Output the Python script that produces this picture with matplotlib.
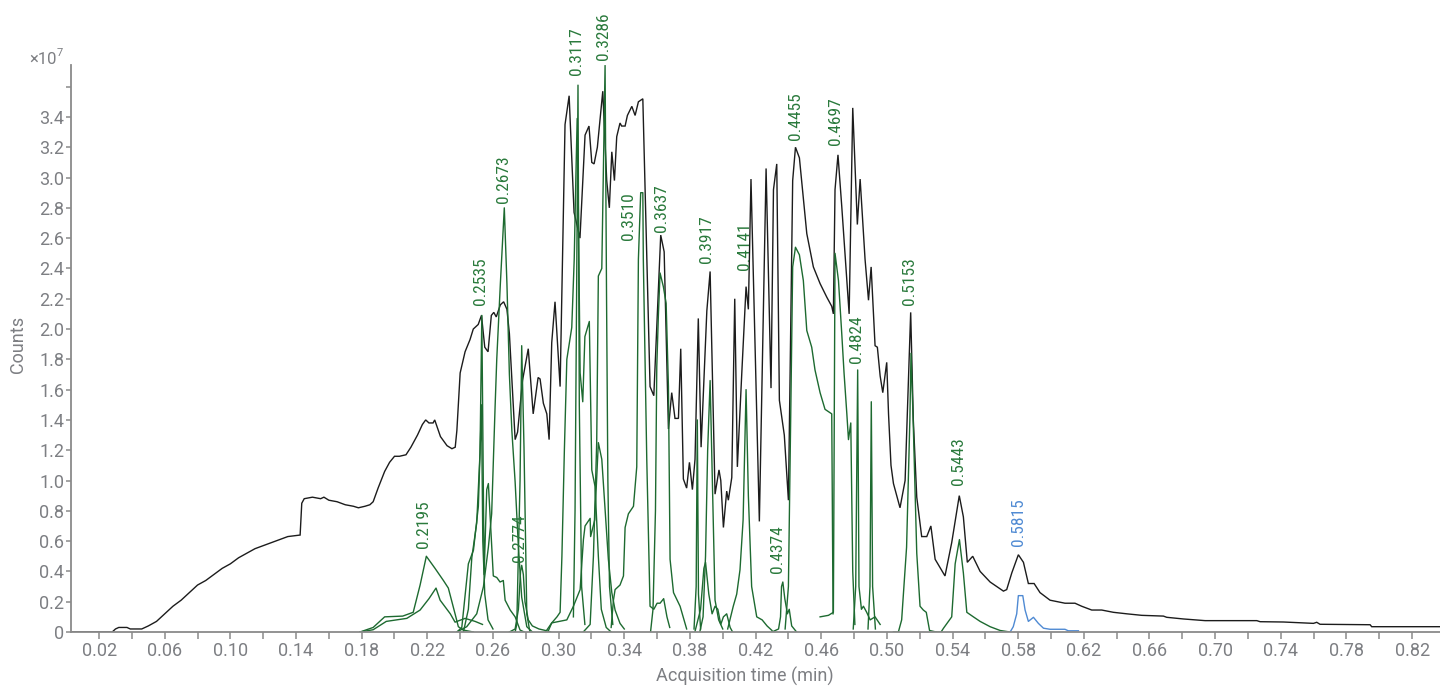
import matplotlib
matplotlib.use("Agg")
import matplotlib.pyplot as plt
from matplotlib import font_manager as fm

plt.rcParams['font.family'] = ['Roboto', 'DejaVu Sans']

# ---------------- data (time in min, counts in units of 1e7) ----------------
tic_t = [0.003, 0.028, 0.030, 0.032, 0.037, 0.039, 0.046, 0.050, 0.055, 0.060, 0.065, 0.070, 0.075,
         0.080, 0.085, 0.090, 0.095, 0.100, 0.105, 0.110, 0.115, 0.120, 0.125, 0.130, 0.135, 0.1425,
         0.1435, 0.145, 0.150, 0.155, 0.157, 0.160, 0.165, 0.170, 0.175, 0.178, 0.182, 0.185, 0.187,
         0.190, 0.194, 0.197, 0.200, 0.203, 0.207, 0.210, 0.214, 0.217, 0.219, 0.221, 0.2235, 0.2245,
         0.228, 0.232, 0.235, 0.237, 0.238, 0.240, 0.243, 0.246, 0.248, 0.251, 0.253, 0.255, 0.257,
         0.259, 0.2605, 0.262, 0.2645, 0.2665, 0.2685, 0.270, 0.2735, 0.275, 0.278, 0.2815, 0.2845,
         0.2875, 0.2887, 0.2907, 0.2928, 0.2942, 0.2958, 0.2978, 0.3009, 0.3039, 0.3064, 0.3094,
         0.3130, 0.3161, 0.3185, 0.3202, 0.3216, 0.3236, 0.3269, 0.3293, 0.3309, 0.3324, 0.3340,
         0.3354, 0.3374, 0.3384, 0.3405, 0.3419, 0.3446, 0.3466, 0.3486, 0.3513, 0.3557, 0.3580,
         0.3622, 0.3643, 0.3669, 0.3689, 0.3709, 0.3730, 0.3744, 0.3760, 0.3780, 0.3797, 0.3815,
         0.3831, 0.3851, 0.3868, 0.3903, 0.3923, 0.3953, 0.3977, 0.3988, 0.4004, 0.4024, 0.4034,
         0.4055, 0.4073, 0.4089, 0.4116, 0.4142, 0.4156, 0.4172, 0.4223, 0.4264, 0.4294, 0.4309,
         0.4329, 0.4345, 0.4375, 0.4400, 0.4426, 0.4443, 0.4467, 0.4512, 0.4552, 0.4593, 0.4634,
         0.4664, 0.4674, 0.4684, 0.4702, 0.4725, 0.4770, 0.4792, 0.4820, 0.4837, 0.4867, 0.4888,
         0.4904, 0.4928, 0.4942, 0.4959, 0.4975, 0.4999, 0.5010, 0.5025, 0.5040, 0.5080, 0.5111,
         0.5145, 0.5161, 0.5182, 0.5212, 0.5243, 0.5268, 0.5294, 0.5354, 0.5395, 0.5441, 0.5466,
         0.5490, 0.5523, 0.5568, 0.5629, 0.5710, 0.5730, 0.5761, 0.5801, 0.5832, 0.5862, 0.5897,
         0.5933, 0.5994, 0.6085, 0.6146, 0.6187, 0.6248, 0.6309, 0.6380, 0.6462, 0.6553, 0.6685,
         0.6705, 0.6807, 0.6939, 0.7254, 0.7274, 0.7416, 0.7599, 0.7619, 0.7639, 0.7944, 0.7954, 0.837]
tic_y = [0.0, 0.0, 0.02, 0.03, 0.03, 0.02, 0.02, 0.04, 0.07, 0.12, 0.17, 0.21, 0.26,
         0.31, 0.34, 0.38, 0.42, 0.45, 0.49, 0.52, 0.55, 0.57, 0.59, 0.61, 0.63, 0.64,
         0.85, 0.88, 0.89, 0.88, 0.89, 0.87, 0.86, 0.84, 0.83, 0.82, 0.83, 0.84, 0.86,
         0.95, 1.06, 1.12, 1.16, 1.16, 1.17, 1.22, 1.30, 1.37, 1.40, 1.38, 1.38, 1.40,
         1.29, 1.23, 1.21, 1.22, 1.33, 1.71, 1.85, 1.93, 2.00, 2.03, 2.09, 1.88, 1.85,
         2.09, 2.11, 2.08, 2.16, 2.18, 2.13, 1.97, 1.27, 1.32, 1.66, 1.87, 1.44,
         1.68, 1.67, 1.51, 1.44, 1.27, 1.91, 2.18, 1.62, 3.35, 3.54, 2.77,
         2.60, 3.28, 3.34, 3.10, 3.09, 3.20, 3.57, 2.98, 2.80, 3.17, 2.98,
         3.27, 3.36, 3.34, 3.34, 3.41, 3.47, 3.41, 3.50, 3.52, 1.62, 1.56,
         2.62, 2.51, 1.34, 1.58, 1.41, 1.41, 1.87, 1.01, 0.95, 1.12, 0.94,
         1.14, 2.07, 1.22, 2.12, 2.38, 0.91, 1.07, 1.00, 0.69, 0.93, 0.87,
         1.02, 2.20, 1.09, 1.71, 2.28, 2.13, 2.99, 0.73, 3.06, 1.61, 2.92,
         3.09, 1.53, 1.30, 0.87, 2.98, 3.20, 3.13, 2.63, 2.41, 2.30, 2.21,
         2.15, 2.10, 2.92, 3.15, 2.81, 2.10, 3.46, 2.69, 2.99, 2.46, 2.19,
         2.41, 1.89, 1.88, 1.69, 1.58, 1.78, 1.44, 1.10, 0.98, 0.82, 1.00,
         2.11, 1.40, 0.89, 0.63, 0.63, 0.70, 0.48, 0.37, 0.59, 0.90, 0.76,
         0.46, 0.50, 0.40, 0.33, 0.27, 0.28, 0.39, 0.51, 0.46, 0.32, 0.32,
         0.26, 0.21, 0.19, 0.19, 0.17, 0.145, 0.145, 0.13, 0.12, 0.11, 0.105,
         0.097, 0.086, 0.075, 0.075, 0.068, 0.066, 0.057, 0.064, 0.051, 0.048, 0.035, 0.035]

# extracted ion chromatograms (green)
eic_2195_t = [0.179, 0.187, 0.194, 0.205, 0.2114, 0.2156, 0.2194, 0.2247, 0.2298, 0.2328, 0.2369, 0.2389, 0.2418, 0.248]
eic_2195_y = [0.0, 0.03, 0.10, 0.105, 0.13, 0.31, 0.50, 0.42, 0.34, 0.29, 0.12, 0.035, 0.013, 0.0]
eic_2253_t = [0.179, 0.187, 0.195, 0.2075, 0.2156, 0.2210, 0.2253, 0.2278, 0.234, 0.2369, 0.2430, 0.2491, 0.2536]
eic_2253_y = [0.0, 0.015, 0.07, 0.09, 0.145, 0.22, 0.29, 0.21, 0.12, 0.065, 0.09, 0.07, 0.05]
eic_2535_t = [0.2420, 0.2450, 0.2471, 0.2501, 0.2521, 0.2532, 0.2546, 0.2562, 0.2572, 0.2602, 0.2623,
              0.2643, 0.2663, 0.2674, 0.2705, 0.2735, 0.2765, 0.279]
eic_2535_y = [0.0, 0.15, 0.49, 0.72, 1.18, 2.09, 0.38, 0.94, 0.98, 0.37, 0.36,
              0.33, 0.34, 0.21, 0.145, 0.10, 0.013, 0.0]
eic_2530_t = [0.2380, 0.2410, 0.2450, 0.2481, 0.2511, 0.2530, 0.2538, 0.2550, 0.2570, 0.2600]
eic_2530_y = [0.0, 0.03, 0.45, 0.54, 0.83, 1.50, 0.60, 0.25, 0.08, 0.02]
eic_2673_t = [0.2380, 0.2440, 0.2501, 0.2542, 0.2572, 0.2592, 0.2613, 0.2623, 0.2645, 0.2669, 0.2685,
              0.2700, 0.2715, 0.2735, 0.2755, 0.2775, 0.2806, 0.2840]
eic_2673_y = [0.0, 0.035, 0.12, 0.30, 0.56, 0.78, 1.49, 1.80, 2.30, 2.80, 2.30,
              1.70, 1.33, 0.99, 0.56, 0.23, 0.035, 0.0]
eic_2775_t = [0.2735, 0.2745, 0.2765, 0.2775, 0.2789, 0.2806, 0.2825]
eic_2775_y = [0.0, 0.05, 1.0, 1.89, 1.22, 0.12, 0.0]
eic_2774_t = [0.2700, 0.2735, 0.2755, 0.2768, 0.2775, 0.2785, 0.2795, 0.2815, 0.2840, 0.2880, 0.2920, 0.2950]
eic_2774_y = [0.0, 0.02, 0.15, 0.40, 0.44, 0.38, 0.20, 0.08, 0.04, 0.02, 0.01, 0.0]
eic_3117_t = [0.3090, 0.3100, 0.3110, 0.3118, 0.3126, 0.3140, 0.3160]
eic_3117_y = [0.1, 0.8, 2.3, 3.61, 1.5, 0.3, 0.05]
eic_3105_t = [0.2920, 0.2958, 0.2990, 0.3009, 0.3020, 0.3035, 0.3050, 0.3080, 0.3095, 0.3105, 0.3113,
              0.3120, 0.3131, 0.3147, 0.3160, 0.3187, 0.3202, 0.3222, 0.3242, 0.3260, 0.3290, 0.3320]
eic_3105_y = [0.0, 0.06, 0.10, 0.13, 0.5, 1.2, 1.80, 2.01, 2.46, 3.0, 3.39,
              2.8, 1.71, 1.52, 1.95, 2.05, 1.07, 0.96, 0.5, 0.15, 0.03, 0.0]
eic_3242_t = [0.2938, 0.2958, 0.3050, 0.3090, 0.3131, 0.3151, 0.3161, 0.3192, 0.3195, 0.3220, 0.3242,
              0.3263, 0.3303, 0.3324, 0.3344, 0.3374, 0.3400]
eic_3242_y = [0.01, 0.06, 0.08, 0.17, 0.28, 0.61, 0.70, 0.75, 0.63, 0.74, 1.25,
              1.14, 0.48, 0.26, 0.145, 0.057, 0.02]
eic_3286_t = [0.3150, 0.3192, 0.3212, 0.3232, 0.3242, 0.3263, 0.3283, 0.3292, 0.3300, 0.3310, 0.3330]
eic_3286_y = [0.0, 0.05, 0.5, 1.25, 2.35, 2.40, 3.74, 2.2, 1.0, 0.3, 0.05]
eic_3510_t = [0.3320, 0.3334, 0.3344, 0.3374, 0.3395, 0.3405, 0.3425, 0.3456, 0.3476, 0.3486, 0.3500,
              0.3513, 0.3516, 0.3537, 0.3557, 0.3580, 0.3600, 0.3618, 0.3640, 0.3660, 0.3677]
eic_3510_y = [0.03, 0.21, 0.28, 0.31, 0.37, 0.69, 0.78, 0.83, 1.09, 2.46, 2.90,
              2.90, 2.46, 1.14, 0.17, 0.15, 0.19, 0.19, 0.22, 0.10, 0.03]
eic_3637_t = [0.3560, 0.3575, 0.3590, 0.3598, 0.3608, 0.3618, 0.3638, 0.3655, 0.3669, 0.3679, 0.3700, 0.3740, 0.3780]
eic_3637_y = [0.0, 0.15, 0.8, 1.75, 2.1, 2.37, 2.28, 2.17, 1.62, 0.48, 0.26, 0.17, 0.02]
eic_3845_t = [0.3825, 0.3838, 0.3845, 0.3852, 0.3865]
eic_3845_y = [0.02, 0.3, 1.40, 0.25, 0.02]
eic_3890_t = [0.3830, 0.3865, 0.3885, 0.3895, 0.3915, 0.3935, 0.3953, 0.3970, 0.3988, 0.4004, 0.4024, 0.4045, 0.4060]
eic_3890_y = [0.0, 0.15, 0.42, 0.46, 0.25, 0.12, 0.17, 0.15, 0.05, 0.10, 0.12, 0.03, 0.0]
eic_3917_t = [0.3860, 0.3880, 0.3895, 0.3908, 0.3923, 0.3943, 0.3953, 0.3975, 0.4000]
eic_3917_y = [0.0, 0.10, 0.5, 1.2, 1.66, 0.69, 0.21, 0.08, 0.02]
eic_4141_t = [0.4030, 0.4064, 0.4085, 0.4105, 0.4124, 0.4142, 0.4156, 0.4176, 0.4207, 0.4240, 0.4270, 0.4300]
eic_4141_y = [0.02, 0.17, 0.25, 0.41, 0.74, 1.60, 0.9, 0.30, 0.10, 0.08, 0.04, 0.01]
eic_4374_t = [0.4300, 0.4340, 0.4352, 0.4358, 0.4366, 0.4378, 0.4394, 0.4405, 0.4420, 0.4450]
eic_4374_y = [0.0, 0.02, 0.10, 0.30, 0.33, 0.22, 0.12, 0.15, 0.04, 0.0]
eic_4455_t = [0.4380, 0.4400, 0.4415, 0.4426, 0.4443, 0.4467, 0.4491, 0.4512, 0.4542, 0.4562, 0.4593,
              0.4623, 0.4664, 0.4672]
eic_4455_y = [0.02, 0.3, 1.5, 2.41, 2.54, 2.49, 2.32, 1.99, 1.88, 1.73, 1.58,
              1.47, 1.44, 0.12]
eic_4697_t = [0.4593, 0.4644, 0.4674, 0.4684, 0.4705, 0.4725, 0.4739, 0.4756, 0.4766, 0.4780, 0.4792, 0.4805]
eic_4697_y = [0.10, 0.11, 0.13, 2.50, 2.32, 1.97, 1.71, 1.44, 1.27, 1.38, 0.4, 0.05]
eic_4824_t = [0.4795, 0.4810, 0.4822, 0.4830, 0.4845, 0.4857, 0.4877, 0.4898, 0.4928, 0.4959]
eic_4824_y = [0.02, 0.3, 1.73, 0.3, 0.15, 0.17, 0.13, 0.08, 0.10, 0.05]
eic_4905_t = [0.4885, 0.4897, 0.4905, 0.4913, 0.4930]
eic_4905_y = [0.02, 0.3, 1.52, 0.3, 0.02]
eic_5153_t = [0.5040, 0.5070, 0.5090, 0.5120, 0.5140, 0.5147, 0.5160, 0.5182, 0.5202, 0.5222, 0.5240, 0.5260, 0.5300]
eic_5153_y = [0.0, 0.0, 0.08, 0.56, 1.40, 1.84, 1.40, 0.52, 0.17, 0.145, 0.13, 0.01, 0.0]
eic_5443_t = [0.5300, 0.5330, 0.5345, 0.5375, 0.5395, 0.5416, 0.5442, 0.5466, 0.5487, 0.5527, 0.5568, 0.5629, 0.5690, 0.5750]
eic_5443_y = [0.0, 0.0, 0.025, 0.07, 0.10, 0.45, 0.61, 0.39, 0.13, 0.10, 0.07, 0.035, 0.01, 0.0]

# blue trace
eic_5815_t = [0.5751, 0.5770, 0.5791, 0.5801, 0.5828, 0.5842, 0.5862, 0.5893, 0.5923, 0.5954, 0.5994,
              0.6085, 0.6105, 0.6167]
eic_5815_y = [0.0, 0.035, 0.12, 0.24, 0.24, 0.145, 0.07, 0.097, 0.057, 0.025, 0.018,
              0.018, 0.008, 0.008]

# peak labels
green_labels = ['0.2195', '0.2535', '0.2673', '0.2774', '0.3117', '0.3286', '0.3510', '0.3637',
                '0.3917', '0.4141', '0.4374', '0.4455', '0.4697', '0.4824', '0.5153', '0.5443']
green_label_t = [0.2176, 0.2521, 0.2663, 0.2759, 0.3110, 0.3273, 0.3425, 0.3628,
                 0.3903, 0.4130, 0.4333, 0.4441, 0.4684, 0.4812, 0.5138, 0.5436]
green_label_y = [0.554, 2.158, 2.83, 0.465, 3.677, 3.776, 2.587, 2.64,
                 2.436, 2.39, 0.389, 3.248, 3.215, 1.775, 2.158, 0.970]
blue_labels = ['0.5815']
blue_label_t = [0.5801]
blue_label_y = [0.567]

x_ticks = [round(0.02 * i, 2) for i in range(1, 42)]
y_ticks = [round(0.2 * i, 1) for i in range(0, 19)]

# ---------------- styling ----------------
GREY = '#7d7f83'
SPINE = '#8a8a8a'
BLACK = '#1c1c1c'
GREEN = '#1d6a30'
GREEN_TXT = '#2a7a3c'
BLUE = '#4f8ad3'

available = {f.name for f in fm.fontManager.ttflist}
if 'Roboto Condensed' in available:
    LAB_FAMILY, LAB_SIZE = ['Roboto Condensed', 'Roboto'], 12.5
elif 'Liberation Sans Narrow' in available:
    LAB_FAMILY, LAB_SIZE = ['Liberation Sans Narrow', 'Roboto'], 12.8
else:
    LAB_FAMILY, LAB_SIZE = ['Roboto', 'DejaVu Sans'], 11.5

W, H = 1440, 686
fig = plt.figure(figsize=(W / 100, H / 100), dpi=100)
ax = fig.add_axes([71 / W, 1 - 632 / H, 1 - 71 / W, (632 - 65) / H])

ax.plot(tic_t, tic_y, color=BLACK, lw=1.0, solid_joinstyle='miter')
greens = [(eic_2195_t, eic_2195_y), (eic_2253_t, eic_2253_y), (eic_2535_t, eic_2535_y),
          (eic_2530_t, eic_2530_y), (eic_2673_t, eic_2673_y), (eic_2775_t, eic_2775_y),
          (eic_2774_t, eic_2774_y), (eic_3117_t, eic_3117_y), (eic_3105_t, eic_3105_y),
          (eic_3242_t, eic_3242_y), (eic_3286_t, eic_3286_y), (eic_3510_t, eic_3510_y),
          (eic_3637_t, eic_3637_y), (eic_3845_t, eic_3845_y), (eic_3890_t, eic_3890_y),
          (eic_3917_t, eic_3917_y), (eic_4141_t, eic_4141_y), (eic_4374_t, eic_4374_y),
          (eic_4455_t, eic_4455_y), (eic_4697_t, eic_4697_y), (eic_4824_t, eic_4824_y),
          (eic_4905_t, eic_4905_y), (eic_5153_t, eic_5153_y), (eic_5443_t, eic_5443_y)]
for t, y in greens:
    ax.plot(t, y, color=GREEN, lw=1.0)
ax.plot(eic_5815_t, eic_5815_y, color=BLUE, lw=1.0)

for s, t, y in zip(green_labels, green_label_t, green_label_y):
    ax.text(t, y, s, rotation=90, ha='center', va='bottom', fontsize=LAB_SIZE,
            family=LAB_FAMILY, color=GREEN_TXT, clip_on=False)
for s, t, y in zip(blue_labels, blue_label_t, blue_label_y):
    ax.text(t, y, s, rotation=90, ha='center', va='bottom', fontsize=LAB_SIZE,
            family=LAB_FAMILY, color=BLUE, clip_on=False)

ax.set_xlim(0.0029, 0.837)
ax.set_ylim(0, 3.743)

ax.set_xticks(x_ticks)
ax.set_xticklabels([f'{v:.2f}' if i % 2 == 0 else '' for i, v in enumerate(x_ticks)])
ax.set_yticks(y_ticks)
ax.set_yticklabels(['0' if v == 0 else ('' if v > 3.5 else f'{v:.1f}') for v in y_ticks])

for side in ('top', 'right'):
    ax.spines[side].set_visible(False)
for side in ('left', 'bottom'):
    ax.spines[side].set_color(SPINE)
    ax.spines[side].set_linewidth(1.3)
ax.tick_params(axis='x', length=5, width=1.1, color=SPINE, labelsize=13, labelcolor=GREY, pad=2)
ax.tick_params(axis='y', length=3.5, width=1.1, color=SPINE, labelsize=13, labelcolor=GREY, pad=1.5)

fig.text(745 / W, 1 - 676 / H, 'Acquisition time (min)', ha='center', va='center',
         fontsize=13, color=GREY)
fig.text(18 / W, 1 - 344 / H, 'Counts', ha='center', va='center', rotation=90,
         fontsize=13, color=GREY)
fig.text(29 / W, 1 - 64 / H, '×10', ha='left', va='baseline', fontsize=12, color=GREY)
fig.text(57 / W, 1 - 56 / H, '7', ha='left', va='baseline', fontsize=8, color=GREY)

fig.savefig('out.png', dpi=100)
